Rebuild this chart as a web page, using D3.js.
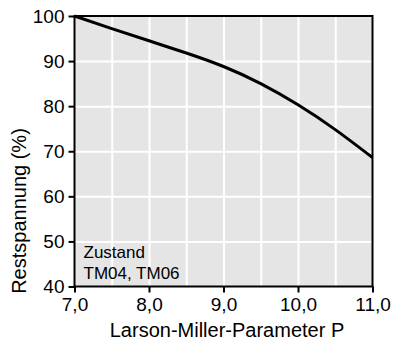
<!DOCTYPE html>
<html>
<head>
<meta charset="utf-8">
<script src="https://cdn.jsdelivr.net/npm/d3@7"></script>
<style>
  html, body { margin: 0; padding: 0; background: #fff; }
  svg { display: block; font-family: "Liberation Sans", Arial, sans-serif; }
</style>
</head>
<body>
<div id="chart"></div>
<script>
// Larson-Miller-Parameter vs. Restspannung
const paramP = [7.0, 7.5, 8.0, 8.5, 9.0, 9.5, 10.0, 10.5, 11.0];
const restspannung = [100, 97.2, 94.5, 91.8, 88.8, 85.0, 80.3, 74.8, 68.6];
const xTicks = [7, 8, 9, 10, 11];
const yTicks = [40, 50, 60, 70, 80, 90, 100];
const xGrid = [7.5, 8.0, 8.5, 9.0, 9.5, 10.0, 10.5];
const yGrid = [50, 60, 70, 80, 90];
const noteLines = ['Zustand', 'TM04, TM06'];

const w = 393, h = 343;
const margin = { top: 16, right: 20.5, bottom: 56.5, left: 74.5 };
const iw = w - margin.left - margin.right;
const ih = h - margin.top - margin.bottom;

const svg = d3.select('#chart').append('svg')
  .attr('width', w)
  .attr('height', h);

const g = svg.append('g')
  .attr('transform', `translate(${margin.left},${margin.top})`);

const x = d3.scaleLinear().domain([7, 11]).range([0, iw]);
const y = d3.scaleLinear().domain([40, 100]).range([ih, 0]);

// ── Background + grid ──────────────────────────────
g.append('rect')
  .attr('width', iw)
  .attr('height', ih)
  .attr('fill', '#e5e5e5');

const gridXg = g.append('g')
  .attr('class', 'grid-x')
  .attr('transform', `translate(0,${ih})`)
  .call(d3.axisBottom(x).tickValues(xGrid).tickSize(-ih).tickFormat(''));
const gridYg = g.append('g')
  .attr('class', 'grid-y')
  .call(d3.axisLeft(y).tickValues(yGrid).tickSize(-iw).tickFormat(''));
[gridXg, gridYg].forEach(a => {
  a.select('.domain').remove();
  a.selectAll('.tick line').attr('stroke', '#ffffff').attr('stroke-width', 2);
});

// ── Curve ──────────────────────────────────────────
const line = d3.line()
  .x((d, i) => x(paramP[i]))
  .y(d => y(d))
  .curve(d3.curveNatural);

g.append('path')
  .datum(restspannung)
  .attr('fill', 'none')
  .attr('stroke', '#000')
  .attr('stroke-width', 3)
  .attr('d', line);

// frame
g.append('rect')
  .attr('width', iw)
  .attr('height', ih)
  .attr('fill', 'none')
  .attr('stroke', '#000')
  .attr('stroke-width', 2);

// ── Axes ───────────────────────────────────────────
const fmt = d => d.toFixed(1).replace('.', ',');

const xAxis = g.append('g')
  .attr('transform', `translate(0,${ih})`)
  .call(d3.axisBottom(x).tickValues(xTicks).tickFormat(fmt).tickSize(6).tickPadding(5));

const yAxis = g.append('g')
  .call(d3.axisLeft(y).tickValues(yTicks).tickSize(6).tickPadding(4));

[xAxis, yAxis].forEach(a => {
  a.select('.domain').remove();
  a.selectAll('.tick line').attr('stroke', '#000').attr('stroke-width', 2);
  a.selectAll('text')
    .attr('fill', '#000')
    .attr('font-size', '19px')
    .style('font-family', '"Liberation Sans", Arial, sans-serif');
});

// axis titles
svg.append('text')
  .attr('x', 227)
  .attr('y', 337)
  .attr('text-anchor', 'middle')
  .attr('font-size', '20px')
  .text('Larson-Miller-Parameter  P');

svg.append('text')
  .attr('transform', 'translate(26,211) rotate(-90)')
  .attr('text-anchor', 'middle')
  .attr('font-size', '20px')
  .text('Restspannung (%)');

// note
const note = g.append('text')
  .attr('font-size', '17px');
note.selectAll('tspan').data(noteLines).enter().append('tspan')
  .attr('x', 9)
  .attr('y', (d, i) => 242 + i * 20.5)
  .text(d => d);
</script>
</body>
</html>
